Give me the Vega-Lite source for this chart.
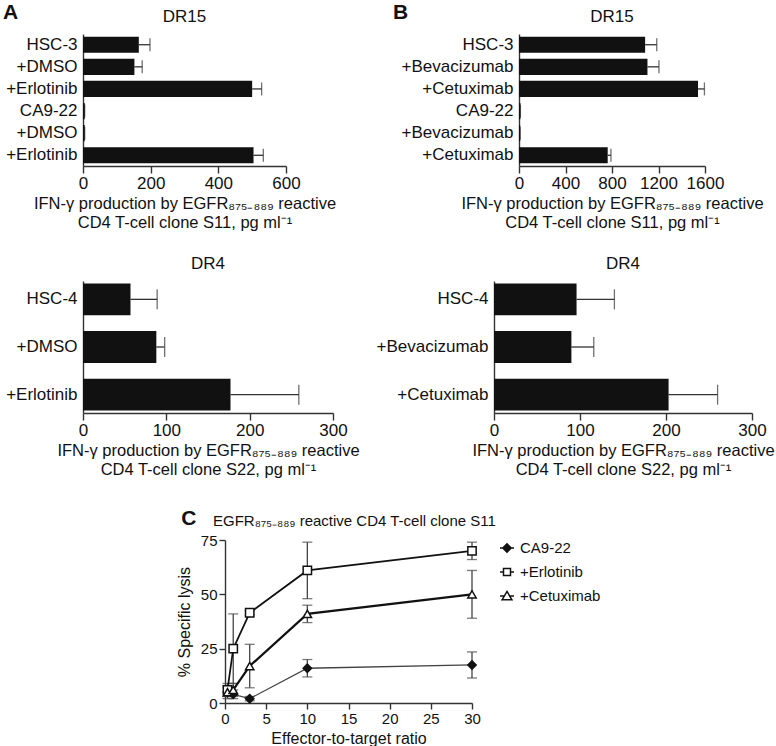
{
  "$schema": "https://vega.github.io/schema/vega-lite/v6.json",
  "background": "white",
  "padding": {"left": 3, "top": 2, "right": 0, "bottom": 0},
  "config": {
    "font": "Liberation Sans",
    "view": {"stroke": null},
    "axis": {"grid": false, "labelFontSize": 17, "titleFontSize": 16.5, "titleFontWeight": "normal", "labelColor": "#111", "titleColor": "#111", "domainColor": "#333", "tickColor": "#333", "domainWidth": 1.4, "tickWidth": 1.4, "labelFont": "Liberation Sans", "titleFont": "Liberation Sans"},
    "axisX": {"tickSize": 7, "labelPadding": 2, "titlePadding": 4, "titleLineHeight": 19, "labelFlush": false, "format": "d"},
    "title": {"fontSize": 17, "fontWeight": "normal", "color": "#111", "font": "Liberation Sans"}
  },
  "datasets": {
    "a15": [
      {"label": "HSC-3", "value": 165, "hi": 198},
      {"label": "+DMSO", "value": 152, "hi": 175},
      {"label": "+Erlotinib", "value": 500, "hi": 528},
      {"label": "CA9-22", "value": 5, "hi": 5},
      {"label": "+DMSO\u200b", "value": 5, "hi": 5},
      {"label": "+Erlotinib\u200b", "value": 504, "hi": 533}
    ],
    "b15": [
      {"label": "HSC-3", "value": 1085, "hi": 1185},
      {"label": "+Bevacizumab", "value": 1105, "hi": 1204},
      {"label": "+Cetuximab", "value": 1540, "hi": 1595},
      {"label": "CA9-22", "value": 12, "hi": 12},
      {"label": "+Bevacizumab\u200b", "value": 10, "hi": 10},
      {"label": "+Cetuximab\u200b", "value": 763, "hi": 791}
    ],
    "a4": [
      {"label": "HSC-4", "value": 57, "hi": 89},
      {"label": "+DMSO", "value": 88, "hi": 98},
      {"label": "+Erlotinib", "value": 177, "hi": 259}
    ],
    "b4": [
      {"label": "HSC-4", "value": 96, "hi": 140},
      {"label": "+Bevacizumab", "value": 90, "hi": 116},
      {"label": "+Cetuximab", "value": 203, "hi": 260}
    ],
    "lysis": [
      {"series": "CA9-22", "et": 0.3, "lysis": 5, "lo": 3, "hi": 7},
      {"series": "CA9-22", "et": 1, "lysis": 4, "lo": 2, "hi": 6},
      {"series": "CA9-22", "et": 3, "lysis": 2, "lo": 1, "hi": 3},
      {"series": "CA9-22", "et": 10, "lysis": 16, "lo": 12, "hi": 20},
      {"series": "CA9-22", "et": 30, "lysis": 17.5, "lo": 11.5, "hi": 23.5},
      {"series": "+Erlotinib", "et": 0.3, "lysis": 6, "lo": 3, "hi": 9},
      {"series": "+Erlotinib", "et": 1, "lysis": 25, "lo": 9, "hi": 41},
      {"series": "+Erlotinib", "et": 3, "lysis": 41.5, "lo": 40.5, "hi": 42.5},
      {"series": "+Erlotinib", "et": 10, "lysis": 61, "lo": 48, "hi": 74},
      {"series": "+Erlotinib", "et": 30, "lysis": 70, "lo": 66, "hi": 74},
      {"series": "+Cetuximab", "et": 0.3, "lysis": 5, "lo": 2, "hi": 8},
      {"series": "+Cetuximab", "et": 1, "lysis": 6, "lo": 3, "hi": 9},
      {"series": "+Cetuximab", "et": 3, "lysis": 17, "lo": 7, "hi": 27},
      {"series": "+Cetuximab", "et": 10, "lysis": 41, "lo": 37, "hi": 45},
      {"series": "+Cetuximab", "et": 30, "lysis": 50, "lo": 39, "hi": 61}
    ]
  },
  "spacing": 30,
  "vconcat": [
    {
      "spacing": 24,
      "vconcat": [
        {
          "spacing": 48,
          "hconcat": [
            {
              "title": {"text": "A", "anchor": "start", "fontSize": 21, "fontWeight": "bold", "offset": 0, "dy": 15},
              "vconcat": [
                {
                  "width": 203, "height": 132,
                  "title": {"text": "DR15", "offset": 8},
                  "data": {"name": "a15"},
                  "encoding": {"y": {"field": "label", "type": "nominal", "sort": null, "scale": {"paddingInner": 0.27, "paddingOuter": 0.12}, "axis": {"title": null, "ticks": false, "labelPadding": 6, "minExtent": 80}}},
                  "layer": [
                    {"mark": {"type": "rule", "color": "#333", "strokeWidth": 1.3}, "encoding": {"x": {"field": "value", "type": "quantitative"}, "x2": {"field": "hi"}}},
                    {"mark": {"type": "tick", "color": "#333", "thickness": 1.3, "size": 13}, "encoding": {"x": {"field": "hi", "type": "quantitative"}}},
                    {"mark": {"type": "bar", "color": "#111"}, "encoding": {"x": {"field": "value", "type": "quantitative", "scale": {"domain": [0, 600], "nice": false}, "axis": {"values": [0, 200, 400, 600], "title": ["IFN-γ production by EGFR₈₇₅₋₈₈₉ reactive", "CD4 T-cell clone S11, pg ml⁻¹"]}}}}
                  ]
                }
              ]
            },
            {
              "title": {"text": "B", "anchor": "start", "fontSize": 21, "fontWeight": "bold", "offset": 0, "dy": 15, "dx": 9},
              "vconcat": [
                {
                  "width": 186, "height": 132,
                  "title": {"text": "DR15", "offset": 8},
                  "data": {"name": "b15"},
                  "encoding": {"y": {"field": "label", "type": "nominal", "sort": null, "scale": {"paddingInner": 0.27, "paddingOuter": 0.12}, "axis": {"title": null, "ticks": false, "labelPadding": 6, "minExtent": 135}}},
                  "layer": [
                    {"mark": {"type": "rule", "color": "#333", "strokeWidth": 1.3}, "encoding": {"x": {"field": "value", "type": "quantitative"}, "x2": {"field": "hi"}}},
                    {"mark": {"type": "tick", "color": "#333", "thickness": 1.3, "size": 13}, "encoding": {"x": {"field": "hi", "type": "quantitative"}}},
                    {"mark": {"type": "bar", "color": "#111"}, "encoding": {"x": {"field": "value", "type": "quantitative", "scale": {"domain": [0, 1600], "nice": false}, "axis": {"values": [0, 400, 800, 1200, 1600], "title": ["IFN-γ production by EGFR₈₇₅₋₈₈₉ reactive", "CD4 T-cell clone S11, pg ml⁻¹"]}}}}
                  ]
                }
              ]
            }
          ]
        },
        {
          "spacing": 16,
          "hconcat": [
            {
              "width": 250, "height": 132,
              "title": {"text": "DR4", "offset": 8},
              "data": {"name": "a4"},
              "encoding": {"y": {"field": "label", "type": "nominal", "sort": null, "scale": {"paddingInner": 0.33, "paddingOuter": 0.05}, "axis": {"title": null, "ticks": false, "labelPadding": 6, "minExtent": 80}}},
              "layer": [
                {"mark": {"type": "rule", "color": "#333", "strokeWidth": 1.3}, "encoding": {"x": {"field": "value", "type": "quantitative"}, "x2": {"field": "hi"}}},
                {"mark": {"type": "tick", "color": "#333", "thickness": 1.3, "size": 20}, "encoding": {"x": {"field": "hi", "type": "quantitative"}}},
                {"mark": {"type": "bar", "color": "#111"}, "encoding": {"x": {"field": "value", "type": "quantitative", "scale": {"domain": [0, 300], "nice": false}, "axis": {"values": [0, 100, 200, 300], "title": ["IFN-γ production by EGFR₈₇₅₋₈₈₉ reactive", "CD4 T-cell clone S22, pg ml⁻¹"]}}}}
              ]
            },
            {
              "width": 258, "height": 132,
              "title": {"text": "DR4", "offset": 8},
              "data": {"name": "b4"},
              "encoding": {"y": {"field": "label", "type": "nominal", "sort": null, "scale": {"paddingInner": 0.33, "paddingOuter": 0.05}, "axis": {"title": null, "ticks": false, "labelPadding": 6, "minExtent": 110}}},
              "layer": [
                {"mark": {"type": "rule", "color": "#333", "strokeWidth": 1.3}, "encoding": {"x": {"field": "value", "type": "quantitative"}, "x2": {"field": "hi"}}},
                {"mark": {"type": "tick", "color": "#333", "thickness": 1.3, "size": 20}, "encoding": {"x": {"field": "hi", "type": "quantitative"}}},
                {"mark": {"type": "bar", "color": "#111"}, "encoding": {"x": {"field": "value", "type": "quantitative", "scale": {"domain": [0, 300], "nice": false}, "axis": {"values": [0, 100, 200, 300], "title": ["IFN-γ production by EGFR₈₇₅₋₈₈₉ reactive", "CD4 T-cell clone S22, pg ml⁻¹"]}}}}
              ]
            }
          ]
        }
      ]
    },
    {
      "spacing": 0,
      "hconcat": [
        {"width": 93, "height": 10, "data": {"values": []}, "mark": {"type": "point", "opacity": 0}},
        {
          "title": {"text": "C", "anchor": "start", "fontSize": 21, "fontWeight": "bold", "offset": 0, "dy": 15, "dx": 5},
          "vconcat": [
            {
              "width": 247, "height": 163,
              "title": {"text": "EGFR₈₇₅₋₈₈₉ reactive CD4 T-cell clone S11", "anchor": "start", "frame": "group", "fontSize": 15, "dx": -12, "offset": 4},
              "data": {"name": "lysis"},
              "layer": [
                {"mark": {"type": "rule", "color": "#444", "strokeWidth": 1.3}, "encoding": {"x": {"field": "et", "type": "quantitative"}, "y": {"field": "lo", "type": "quantitative"}, "y2": {"field": "hi"}}},
                {"mark": {"type": "tick", "color": "#444", "thickness": 1.3, "size": 10, "orient": "horizontal"}, "encoding": {"x": {"field": "et", "type": "quantitative"}, "y": {"field": "lo", "type": "quantitative"}}},
                {"mark": {"type": "tick", "color": "#444", "thickness": 1.3, "size": 10, "orient": "horizontal"}, "encoding": {"x": {"field": "et", "type": "quantitative"}, "y": {"field": "hi", "type": "quantitative"}}},
                {"mark": {"type": "line"}, "encoding": {
                  "x": {"field": "et", "type": "quantitative", "scale": {"domain": [0, 30], "nice": false}, "axis": {"values": [0, 5, 10, 15, 20, 25, 30], "title": "Effector-to-target ratio", "titleFontSize": 16, "labelFontSize": 15, "tickSize": 6}},
                  "y": {"field": "lysis", "type": "quantitative", "scale": {"domain": [0, 75], "nice": false}, "axis": {"values": [0, 25, 50, 75], "title": "% Specific lysis", "titleFontSize": 16, "labelFontSize": 15, "tickSize": 6, "titlePadding": 8}},
                  "detail": {"field": "series"},
                  "color": {"field": "series", "type": "nominal", "scale": {"domain": ["CA9-22", "+Erlotinib", "+Cetuximab"], "range": ["#444", "#111", "#111"]}, "legend": null},
                  "strokeWidth": {"field": "series", "type": "nominal", "scale": {"domain": ["CA9-22", "+Erlotinib", "+Cetuximab"], "range": [1.3, 2.2, 2.2]}, "legend": null}
                }},
                {"mark": {"type": "point", "filled": true, "stroke": "#111", "strokeWidth": 1.5, "size": 70, "opacity": 1}, "encoding": {
                  "x": {"field": "et", "type": "quantitative"},
                  "y": {"field": "lysis", "type": "quantitative"},
                  "shape": {"field": "series", "type": "nominal", "scale": {"domain": ["CA9-22", "+Erlotinib", "+Cetuximab"], "range": ["diamond", "square", "triangle-up"]}, "legend": null},
                  "fill": {"field": "series", "type": "nominal", "scale": {"domain": ["CA9-22", "+Erlotinib", "+Cetuximab"], "range": ["#111", "white", "white"]}, "legend": null}
                }},
                {"transform": [{"filter": "false"}], "mark": {"type": "point", "filled": true, "stroke": "#111", "strokeWidth": 1.5, "opacity": 1}, "encoding": {
                  "x": {"field": "et", "type": "quantitative"},
                  "y": {"field": "lysis", "type": "quantitative"},
                  "fill": {"field": "series", "type": "nominal", "scale": {"domain": ["CA9-22", "+Erlotinib", "+Cetuximab"], "range": ["#111", "white", "white"]}, "legend": {"title": null, "orient": "right", "offset": 22, "symbolSize": 196, "labelFontSize": 15, "rowPadding": 8, "labelOffset": 5, "symbolStrokeWidth": 1.5, "symbolOpacity": 1, "padding": 0, "labelColor": "#111"}},
                  "shape": {"field": "series", "type": "nominal", "scale": {"domain": ["CA9-22", "+Erlotinib", "+Cetuximab"], "range": ["M-1,0H1M0,-0.6L0.6,0L0,0.6L-0.6,0Z", "M-1,0H-0.5M0.5,0H1M-0.5,-0.5H0.5V0.5H-0.5Z", "M-1,0H-0.38M0.38,0H1M0,-0.65L0.7,0.55L-0.7,0.55Z"]}, "legend": {"title": null, "orient": "right", "offset": 22, "symbolSize": 196, "labelFontSize": 15, "rowPadding": 8, "labelOffset": 5, "symbolStrokeWidth": 1.5, "symbolOpacity": 1, "padding": 0, "labelColor": "#111"}}
                }}
              ],
              "resolve": {"scale": {"shape": "independent", "fill": "independent"}}
            }
          ]
        }
      ]
    }
  ]
}
